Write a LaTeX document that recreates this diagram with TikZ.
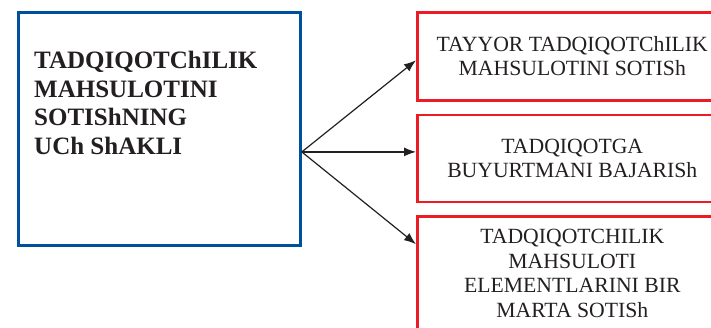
\documentclass[tikz,border=0pt]{standalone}
\usepackage{fontspec}
\setmainfont{Liberation Serif}
\usepackage{xcolor}
\usepackage{tikz}
\usetikzlibrary{arrows.meta,positioning}
\definecolor{formblue}{RGB}{0,80,158}
\definecolor{optred}{RGB}{237,28,36}
\definecolor{inkgray}{RGB}{35,31,32}

\begin{document}
\begin{tikzpicture}[
x=1pt, y=-1pt,
node distance=12pt,
formbox/.style={draw=formblue, line width=2.8pt, minimum width=282pt, minimum height=233pt, anchor=north west},
formtext/.style={align=left, inner sep=0pt, text=inkgray, font=\fontsize{25}{28.7}\selectfont\bfseries},
optbox/.style={draw=optred, line width=2.6pt, minimum width=310pt, align=center, text=inkgray, font=\fontsize{21.7}{24.5}\selectfont},
arrow/.style={-{Latex[length=12pt,width=9pt]}, line width=1.2pt, inkgray}
]
\path[use as bounding box] (0,0) rectangle (711,327);
\clip (0,0) rectangle (711,327);
\node[formbox] (form) at (17,11) {};
\node[formtext, anchor=north west] (formlbl) at (34,51) {TADQIQOTChILIK\\MAHSULOTINI\\SOTIShNING\\UCh ShAKLI};
\node[optbox, minimum height=88pt, anchor=north west] (opt1) at (416,11) {TAYYOR TADQIQOTChILIK\\MAHSULOTINI SOTISh};
\node[optbox, minimum height=87pt, below=of opt1] (opt2) {TADQIQOTGA\\BUYURTMANI BAJARISh};
\node[optbox, minimum height=114pt, below=of opt2] (opt3) {TADQIQOTCHILIK\\MAHSULOTI\\ELEMENTLARINI BIR\\MARTA SOTISh};
\coordinate (hub) at ([yshift=-23pt]form.east);
\draw[arrow] (hub) -- ([yshift=-4pt]opt1.west);
\draw[arrow] (hub) -- (hub -| opt2.west);
\draw[arrow] (hub) -- ([yshift=-29pt]opt3.north west);
\end{tikzpicture}
\end{document}
